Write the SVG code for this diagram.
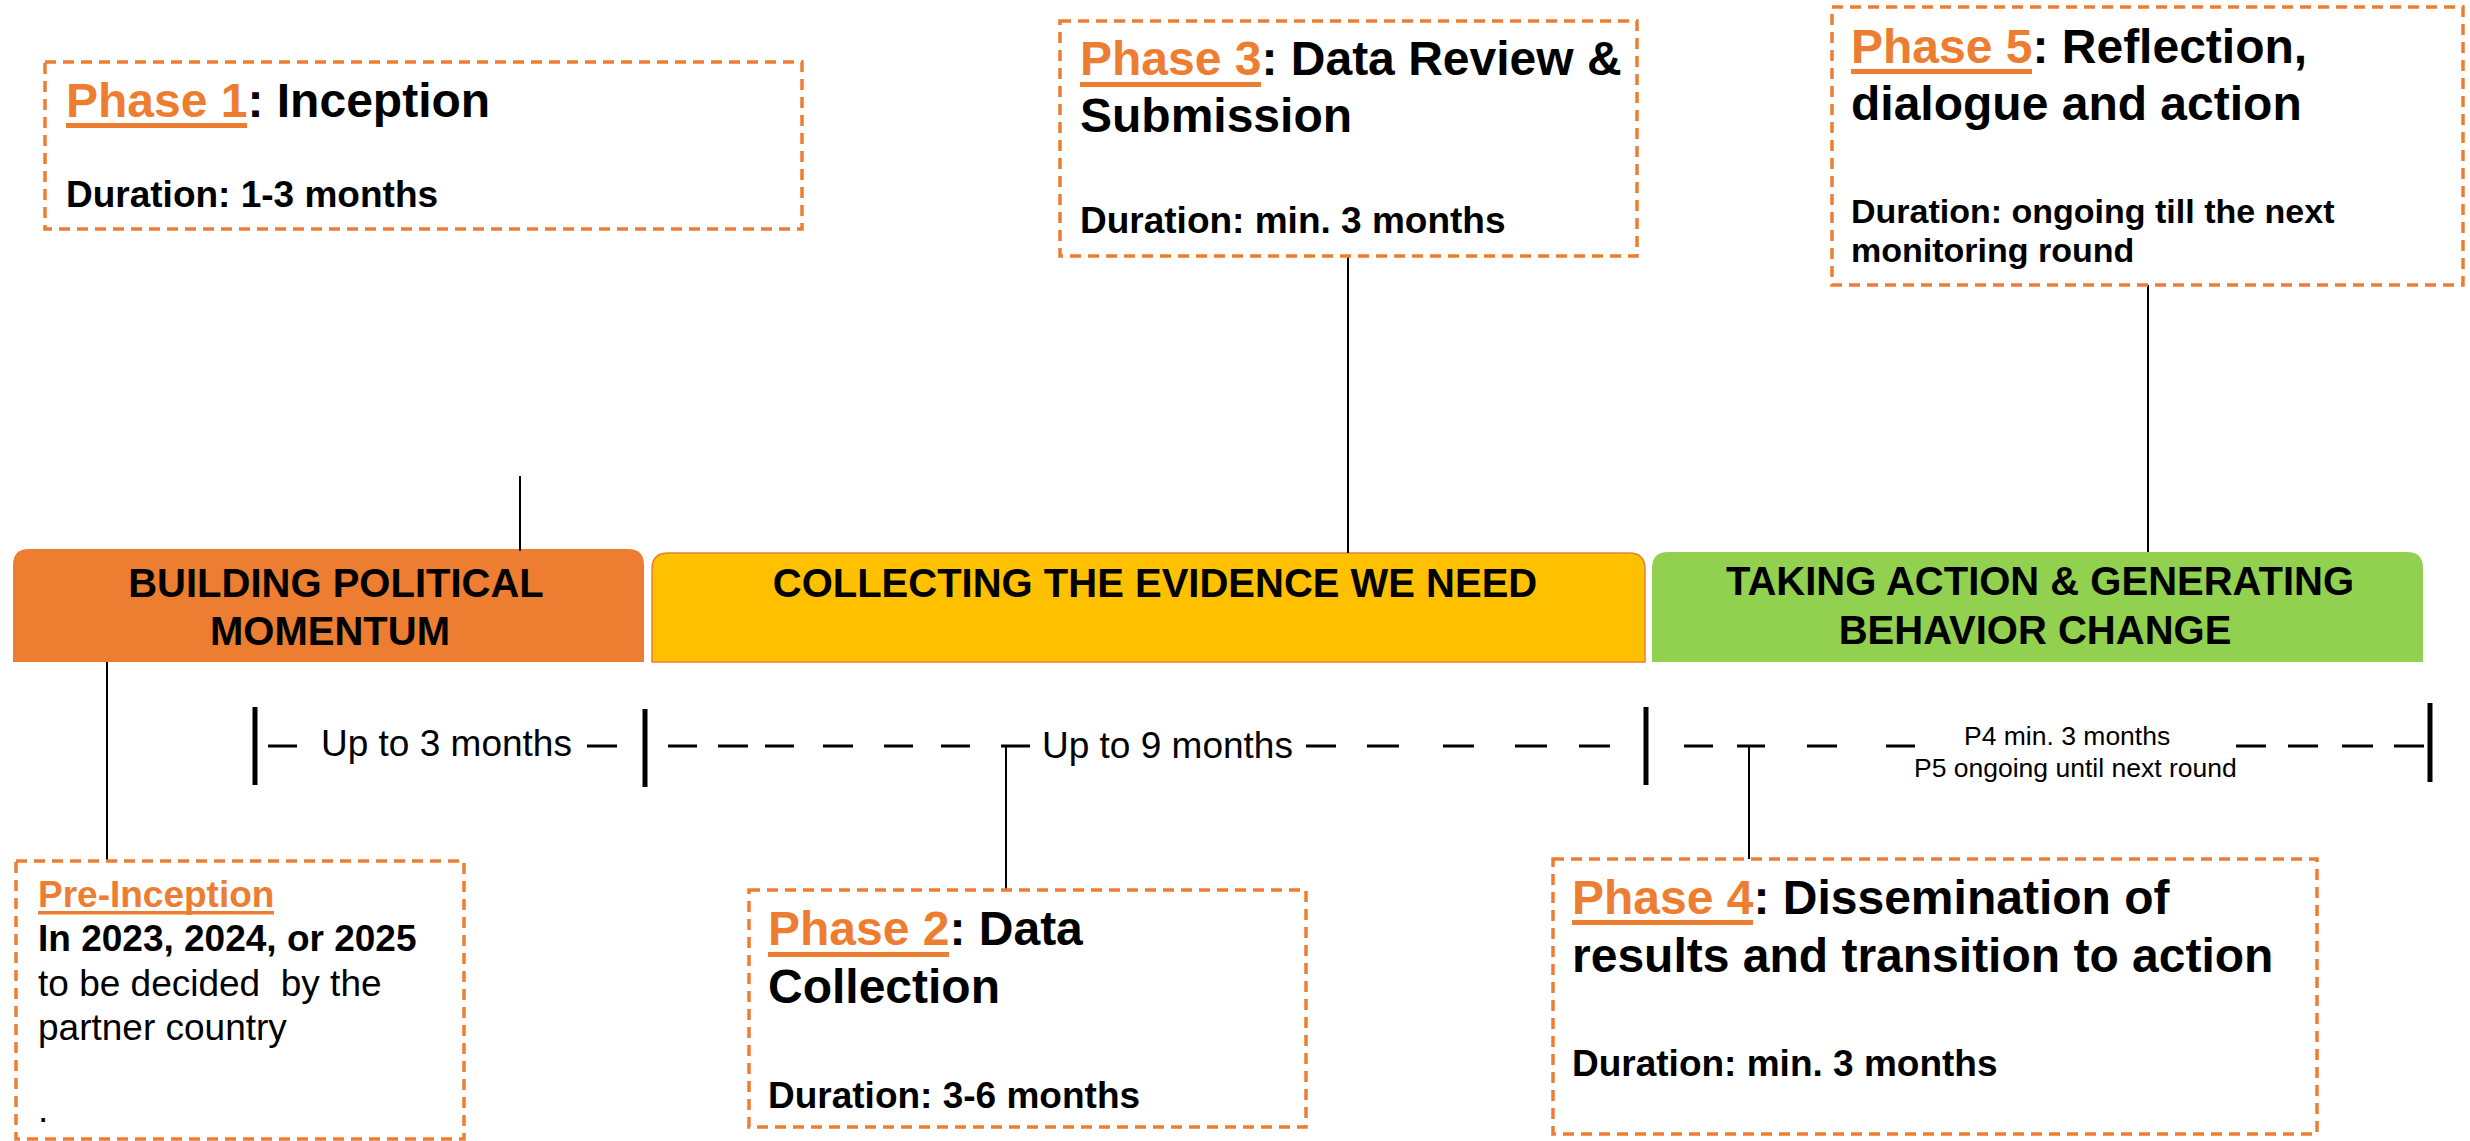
<svg xmlns="http://www.w3.org/2000/svg" width="2470" height="1141" viewBox="0 0 2470 1141">
<style>
text{font-family:"Liberation Sans",Arial,sans-serif;fill:#000}
.box{fill:#fff;stroke:#ED7D31;stroke-width:3.5;stroke-dasharray:11 7}
.t{font-size:48px;font-weight:bold}
.ph{fill:#ED7D31}
.ul{fill:#ED7D31}
.d{font-size:37px;font-weight:bold}
.d5{font-size:34px;font-weight:bold}
.r{font-size:37px}
.band{font-size:40px;font-weight:bold;text-anchor:middle}
.tl{font-size:37px}
.sm{font-size:26.5px}
.conn line{stroke:#000;stroke-width:2}
.tick{stroke:#000;stroke-width:5}
.dash{stroke:#000;stroke-width:3}
</style>
<rect width="2470" height="1141" fill="#fff"/>

<g id="band-political">
<path d="M13,662 V565 Q13,549 29,549 H628 Q644,549 644,565 V662 Z" fill="#ED7D31"/>
<text class="band" x="336" y="597">BUILDING POLITICAL</text>
<text class="band" x="330" y="645">MOMENTUM</text>
</g>
<g id="band-evidence">
<path d="M652,662 V569 Q652,553 668,553 H1629 Q1645,553 1645,569 V662 Z" fill="#FFC000" stroke="#ED7D31" stroke-width="1.5"/>
<text class="band" x="1155" y="597">COLLECTING THE EVIDENCE WE NEED</text>
</g>
<g id="band-action">
<path d="M1652,662 V568 Q1652,552 1668,552 H2407 Q2423,552 2423,568 V662 Z" fill="#92D050"/>
<text class="band" x="2040" y="595">TAKING ACTION &amp; GENERATING</text>
<text class="band" x="2035" y="644">BEHAVIOR CHANGE</text>
</g>

<g id="connectors" class="conn">
<line x1="520" y1="476" x2="520" y2="551"/>
<line x1="1348" y1="257" x2="1348" y2="553"/>
<line x1="2148" y1="285" x2="2148" y2="552"/>
<line x1="107" y1="662" x2="107" y2="861"/>
<line x1="1006" y1="746" x2="1006" y2="890"/>
<line x1="1749" y1="746" x2="1749" y2="859"/>
</g>

<g id="timeline">
<line class="tick" x1="255" y1="707" x2="255" y2="785"/>
<line class="tick" x1="645" y1="709" x2="645" y2="787"/>
<line class="tick" x1="1646" y1="707" x2="1646" y2="785"/>
<line class="tick" x1="2430" y1="703" x2="2430" y2="782"/>
<g class="dash">
<line x1="268" y1="746" x2="297" y2="746"/>
<line x1="587" y1="746" x2="617" y2="746"/>
<line x1="668" y1="746" x2="697" y2="746"/>
<line x1="718" y1="746" x2="748" y2="746"/>
<line x1="765" y1="746" x2="794" y2="746"/>
<line x1="823" y1="746" x2="853" y2="746"/>
<line x1="884" y1="746" x2="913" y2="746"/>
<line x1="941" y1="746" x2="970" y2="746"/>
<line x1="1001" y1="746" x2="1030" y2="746"/>
<line x1="1306" y1="746" x2="1336" y2="746"/>
<line x1="1367" y1="746" x2="1399" y2="746"/>
<line x1="1443" y1="746" x2="1474" y2="746"/>
<line x1="1515" y1="746" x2="1547" y2="746"/>
<line x1="1579" y1="746" x2="1610" y2="746"/>
<line x1="1684" y1="746" x2="1713" y2="746"/>
<line x1="1737" y1="746" x2="1765" y2="746"/>
<line x1="1807" y1="746" x2="1837" y2="746"/>
<line x1="1886" y1="746" x2="1915" y2="746"/>
<line x1="2236" y1="746" x2="2266" y2="746"/>
<line x1="2288" y1="746" x2="2318" y2="746"/>
<line x1="2342" y1="746" x2="2373" y2="746"/>
<line x1="2394" y1="746" x2="2424" y2="746"/>
</g>
<text class="tl" x="321" y="756">Up to 3 months</text>
<text class="tl" x="1042" y="758">Up to 9 months</text>
<text class="sm" x="1964" y="745">P4 min. 3 months</text>
<text class="sm" x="1914" y="777">P5 ongoing until next round</text>
</g>

<g id="phase1">
<rect class="box" x="45" y="62" width="757" height="167"/>
<text class="t" x="66" y="117"><tspan class="ph">Phase 1</tspan>: Inception</text>
<rect class="ul" x="66" y="123" width="181" height="5"/>
<text class="d" x="66" y="207">Duration: 1-3 months</text>
</g>

<g id="phase3">
<rect class="box" x="1060" y="21" width="577" height="235"/>
<text class="t" x="1080" y="75"><tspan class="ph">Phase 3</tspan>: Data Review &amp;</text>
<rect class="ul" x="1080" y="82" width="181" height="5"/>
<text class="t" x="1080" y="132">Submission</text>
<text class="d" x="1080" y="233">Duration: min. 3 months</text>
</g>

<g id="phase5">
<rect class="box" x="1832" y="7" width="631" height="278"/>
<text class="t" x="1851" y="63"><tspan class="ph">Phase 5</tspan>: Reflection,</text>
<rect class="ul" x="1851" y="69" width="181" height="5"/>
<text class="t" x="1851" y="120">dialogue and action</text>
<text class="d5" x="1851" y="223">Duration: ongoing till the next</text>
<text class="d5" x="1851" y="262">monitoring round</text>
</g>

<g id="preinception">
<rect class="box" x="16" y="861" width="448" height="278"/>
<text class="d" x="38" y="907"><tspan class="ph">Pre-Inception</tspan></text>
<rect class="ul" x="38" y="911" width="236" height="3.5"/>
<text class="d" x="38" y="951">In 2023, 2024, or 2025</text>
<text class="r" x="38" y="996" xml:space="preserve">to be decided  by the</text>
<text class="r" x="38" y="1040">partner country</text>
<text class="r" x="38" y="1122">.</text>
</g>

<g id="phase2">
<rect class="box" x="749" y="890" width="557" height="237"/>
<text class="t" x="768" y="945"><tspan class="ph">Phase 2</tspan>: Data</text>
<rect class="ul" x="768" y="952" width="181" height="5"/>
<text class="t" x="768" y="1003">Collection</text>
<text class="d" x="768" y="1108">Duration: 3-6 months</text>
</g>

<g id="phase4">
<rect class="box" x="1553" y="859" width="764" height="275"/>
<text class="t" x="1572" y="914"><tspan class="ph">Phase 4</tspan>: Dissemination of</text>
<rect class="ul" x="1572" y="920" width="181" height="5"/>
<text class="t" x="1572" y="972">results and transition to action</text>
<text class="d" x="1572" y="1076">Duration: min. 3 months</text>
</g>
</svg>
